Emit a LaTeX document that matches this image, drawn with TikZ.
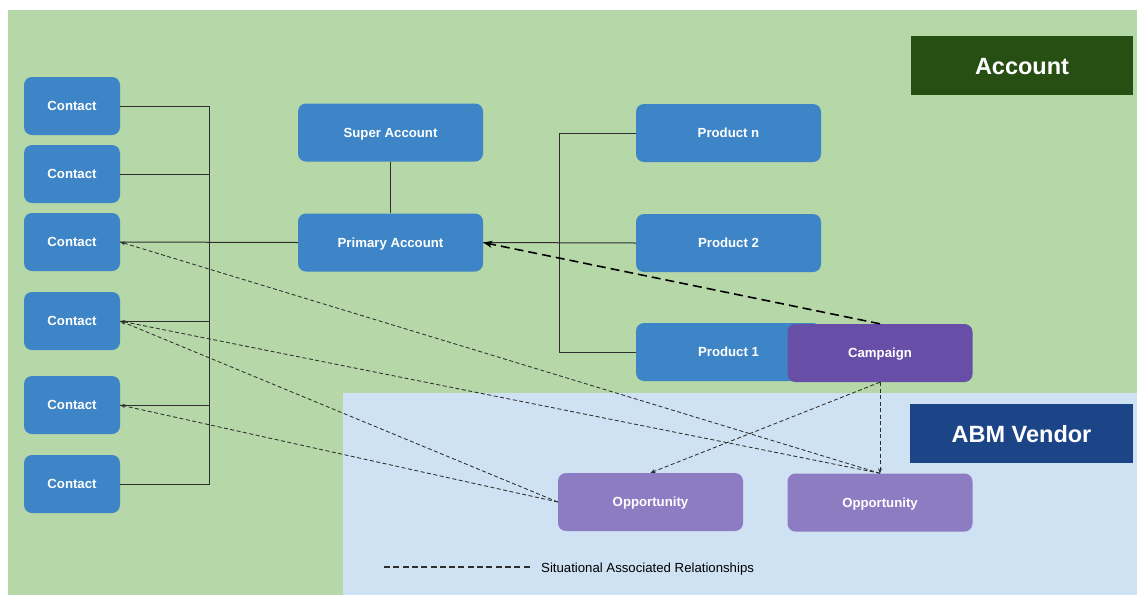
\documentclass[tikz,border=0pt]{standalone}
\usepackage{fontspec}
\setmainfont{Liberation Sans}
\usetikzlibrary{arrows.meta}
\definecolor{bggreen}{HTML}{B6D7A8}
\definecolor{bgblue}{HTML}{CFE2F3}
\definecolor{boxblue}{HTML}{3D85C6}
\definecolor{camp}{HTML}{674EA7}
\definecolor{opp}{HTML}{8E7CC3}
\definecolor{acc}{HTML}{274E13}
\definecolor{abm}{HTML}{1C4587}
\definecolor{linegray}{HTML}{2E2E2E}
\begin{document}
\begin{tikzpicture}[x=1pt,y=-1pt,
  box/.style={rounded corners=8pt, inner sep=0pt, text=white, text height=9.4pt, text depth=0pt, font=\fontsize{13.2}{15}\selectfont\bfseries},
  contact/.style={box, fill=boxblue, minimum width=96pt, minimum height=58pt},
  wide/.style={box, minimum width=185pt, minimum height=58pt},
  title/.style={inner sep=0pt, text=white, text height=17pt, text depth=0pt, minimum width=222pt, minimum height=59pt, font=\fontsize{23.5}{26}\selectfont\bfseries},
  solidline/.style={draw=linegray, line width=1pt},
  dashline/.style={draw=linegray, line width=0.85pt, dash pattern=on 4pt off 2.5pt, -{Stealth[length=5pt,width=4pt]}},
  thickdash/.style={draw=black, line width=1.6pt, dash pattern=on 9pt off 5pt, -{Stealth[length=9pt,width=7pt]}}
]
\useasboundingbox (0,0) rectangle (1137,595);
% backgrounds
\fill[bggreen] (8,10) rectangle (1137,595);
\fill[bgblue] (343,393) rectangle (1137,595);

% title labels
\node[title, fill=acc] (acct) at (1022,65.5) {Account};
\node[title, fill=abm, minimum width=223pt] (abmv) at (1021.5,433.5) {ABM Vendor};

% bus coordinates
\coordinate (busx) at (209,0);
\coordinate (pbus) at (559,0);

% contacts
\node[contact] (c1) at (72,106) {Contact};
\node[contact] (c2) at (72,174) {Contact};
\node[contact] (c3) at (72,242) {Contact};
\node[contact] (c4) at (72,321) {Contact};
\node[contact] (c5) at (72,405) {Contact};
\node[contact] (c6) at (72,484) {Contact};

% accounts
\node[wide, fill=boxblue] (sa) at (390.5,132.5) {Super Account};
\node[wide, fill=boxblue] (pa) at (390.5,242.5) {Primary Account};

% products
\node[wide, fill=boxblue] (pn) at (728.5,133) {Product n};
\node[wide, fill=boxblue] (p2) at (728.5,243) {Product 2};
\node[wide, fill=boxblue] (p1) at (728.5,352) {Product 1};

% solid connectors
\draw[solidline] (c1.east) -- (c1.east -| busx) -- (c6.east -| busx) -- (c6.east);
\draw[solidline] (c2.east) -- (c2.east -| busx);
\draw[solidline] (c4.east) -- (c4.east -| busx);
\draw[solidline] (c5.east) -- (c5.east -| busx);
\draw[solidline] (c3.east) -- (pa.west);
\draw[solidline] (sa.south) -- (pa.north);
\draw[solidline] (pn.west) -- (pn.west -| pbus) -- (p1.west -| pbus) -- (p1.west);
\draw[solidline] (pa.east) -- (p2.west);

% campaign and opportunities
\node[wide, fill=camp] (cp) at (880,353) {Campaign};
\node[wide, fill=opp] (o1) at (650.5,502) {Opportunity};
\node[wide, fill=opp] (o2) at (880,502.5) {Opportunity};

% dashed relationships
\draw[thickdash] (cp.north) -- (pa.east);
\draw[dashline] (cp.south) -- (o1.north);
\draw[dashline] (cp.south) -- (o2.north);
\draw[dashline] (o2.north) -- (c3.east);
\draw[dashline] (o2.north) -- (c4.east);
\draw[dashline] (o1.west) -- (c4.east);
\draw[dashline] (o1.west) -- (c5.east);

% legend
\coordinate (l1) at (384,567);
\coordinate (l2) at (531,567);
\draw[draw=linegray, line width=1.1pt, dash pattern=on 6pt off 3.3pt] (l1) -- (l2);
\node[anchor=west, inner sep=0pt, text height=9.5pt, text depth=0pt, font=\fontsize{13.2}{15}\selectfont, text=black] (leg) at (541,568) {Situational Associated Relationships};
\end{tikzpicture}
\end{document}
